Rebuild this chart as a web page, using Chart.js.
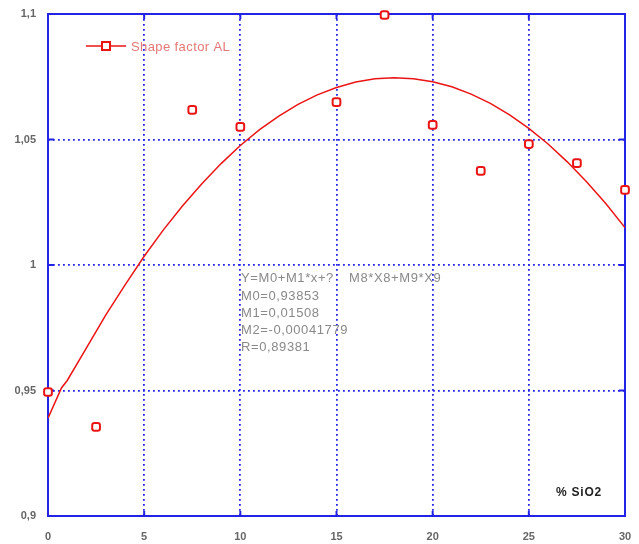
<!DOCTYPE html>
<html>
<head>
<meta charset="utf-8">
<script src="https://cdn.jsdelivr.net/npm/chart.js@4.4.1/dist/chart.umd.min.js"></script>
<style>
  html, body { margin: 0; padding: 0; background: #fff; }
  #wrap { width: 639px; height: 544px; }
</style>
</head>
<body>
<div id="wrap"><canvas id="c" width="639" height="544"></canvas></div>
<script>
// Measured shape factor against % SiO2
const sio2 = [0, 2.5, 7.5, 10, 15, 17.5, 20, 22.5, 25, 27.5, 30];
const shapeFactor = [0.9494, 0.9355, 1.0618, 1.0550, 1.0649, 1.0996, 1.0558, 1.0375, 1.0482, 1.0406, 1.0299];

// Polynomial fit curve
const fitX = [0, 0.7, 1, 2, 3, 4, 5, 6, 7, 8, 9, 10, 11, 12, 13, 14, 15, 16, 17, 18, 19, 20, 21, 22, 23, 24, 25, 26, 27, 28, 29, 30];
const fitY = [0.939, 0.951, 0.954, 0.967, 0.980, 0.992, 1.0035, 1.014, 1.0236, 1.0324, 1.0404, 1.0476, 1.0539, 1.0593, 1.064, 1.0678, 1.0707, 1.0729, 1.0742, 1.0746, 1.0742, 1.073, 1.071, 1.0681, 1.0644, 1.0598, 1.0544, 1.0482, 1.0411, 1.0332, 1.0245, 1.0149];

// Axis ticks
const xTicks = [0, 5, 10, 15, 20, 25, 30];
const yTicks = [0.9, 0.95, 1, 1.05, 1.1];

// Fit annotation lines
const fitTextHead = "Y=M0+M1*x+?";
const fitTextTail = "M8*X8+M9*X9";
const fitTextLines = ["M0=0,93853", "M1=0,01508", "M2=-0,00041779", "R=0,89381"];
const seriesName = "Shape factor AL";
const xTitle = "% SiO2";

const BLUE = "rgb(35,35,232)";
const RED = "rgb(235,20,20)";
const FONT = "'Liberation Sans', Arial, sans-serif";

const fmt = v => String(Math.round(v * 100) / 100).replace(".", ",");

const framePlugin = {
  id: "frame",
  beforeDatasetsDraw(chart) {
    const { ctx, chartArea: a, scales } = chart;
    ctx.save();
    ctx.strokeStyle = BLUE;
    ctx.lineWidth = 2;
    ctx.strokeRect(a.left, a.top, a.right - a.left, a.bottom - a.top);
    ctx.beginPath();
    xTicks.slice(1, -1).forEach(t => {
      const px = scales.x.getPixelForValue(t);
      ctx.moveTo(px, a.bottom); ctx.lineTo(px, a.bottom - 5);
      ctx.moveTo(px, a.top); ctx.lineTo(px, a.top + 5);
    });
    yTicks.slice(1, -1).forEach(t => {
      const py = scales.y.getPixelForValue(t);
      ctx.moveTo(a.left, py); ctx.lineTo(a.left + 6, py);
      ctx.moveTo(a.right, py); ctx.lineTo(a.right - 6, py);
    });
    ctx.stroke();
    ctx.restore();
  },
  afterDraw(chart) {
    const { ctx } = chart;
    ctx.save();
    // legend
    ctx.strokeStyle = RED;
    ctx.lineWidth = 1.5;
    ctx.beginPath();
    ctx.moveTo(86, 46); ctx.lineTo(126, 46);
    ctx.stroke();
    ctx.fillStyle = "#fff";
    ctx.lineWidth = 2;
    ctx.fillRect(102, 42, 8, 8);
    ctx.strokeRect(102, 42, 8, 8);
    ctx.fillStyle = "rgb(228,120,120)";
    ctx.font = "13px " + FONT;
    ctx.letterSpacing = "0.4px";
    ctx.textBaseline = "middle";
    ctx.textAlign = "left";
    ctx.fillText(seriesName, 131, 47);
    // fit annotation
    ctx.fillStyle = "#8a8a8a";
    ctx.font = "13px " + FONT;
    ctx.letterSpacing = "0.6px";
    ctx.fillText(fitTextHead, 241, 278);
    ctx.fillText(fitTextTail, 349, 278);
    fitTextLines.forEach((s, i) => ctx.fillText(s, 241, 296 + i * 17));
    // x title
    ctx.fillStyle = "#222";
    ctx.font = "bold 12px " + FONT;
    ctx.letterSpacing = "0.8px";
    ctx.textAlign = "center";
    ctx.fillText(xTitle, 579, 493);
    ctx.restore();
  }
};

const tickFont = { family: FONT, size: 11, weight: "bold" };

new Chart(document.getElementById("c"), {
  type: "scatter",
  data: {
    datasets: [
      {
        label: "fit",
        data: fitX.map((x, i) => ({ x, y: fitY[i] })),
        showLine: true,
        borderColor: RED,
        borderWidth: 1.5,
        pointRadius: 0,
        tension: 0
      },
      {
        label: seriesName,
        data: sio2.map((x, i) => ({ x, y: shapeFactor[i] })),
        showLine: false,
        pointStyle: "rectRounded",
        pointRadius: 4.5,
        borderWidth: 2,
        borderColor: RED,
        backgroundColor: "#fff",
        clip: false
      }
    ]
  },
  options: {
    responsive: false,
    animation: false,
    layout: { padding: { top: 14, right: 14, left: 0, bottom: 0 } },
    plugins: { legend: { display: false }, tooltip: { enabled: false } },
    scales: {
      x: {
        type: "linear",
        min: 0, max: 30,
        afterFit: s => { s.height = 28; s.paddingLeft = 0; s.paddingRight = 0; },
        afterBuildTicks: s => { s.ticks = xTicks.map(v => ({ value: v })); },
        grid: { color: BLUE, lineWidth: 1.8, drawTicks: false },
        border: { display: false, dash: [1.8, 3.2] },
        ticks: { padding: 14, color: "#666", font: tickFont, callback: v => fmt(v) }
      },
      y: {
        type: "linear",
        min: 0.9, max: 1.1,
        afterFit: s => { s.width = 48; s.paddingTop = 0; s.paddingBottom = 0; },
        afterBuildTicks: s => { s.ticks = yTicks.map(v => ({ value: v })); },
        grid: { color: BLUE, lineWidth: 1.8, drawTicks: false },
        border: { display: false, dash: [1.8, 3.2] },
        ticks: { padding: 12, color: "#666", font: tickFont, callback: v => fmt(v) }
      }
    }
  },
  plugins: [framePlugin]
});
</script>
</body>
</html>
